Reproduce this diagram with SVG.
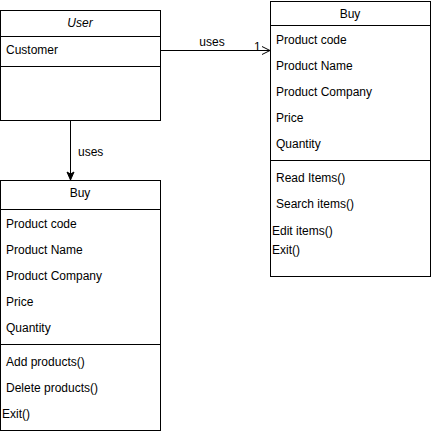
<svg xmlns="http://www.w3.org/2000/svg" width="431" height="431" viewBox="0 0 431 431">
<style>
.box{fill:#fff;stroke:#000;stroke-width:1}
.ln{stroke:#000;stroke-width:1;fill:none}
text{font-family:"Liberation Sans",Arial,sans-serif;font-size:12px;fill:#000}
.c{text-anchor:middle}
</style>
<defs>
<marker id="open" markerWidth="10" markerHeight="10" refX="9" refY="5" orient="auto" markerUnits="userSpaceOnUse">
<path d="M1,1 L9,5 L1,9" fill="none" stroke="#000" stroke-width="1"/>
</marker>
<marker id="block" markerWidth="10" markerHeight="10" refX="9" refY="5" orient="auto" markerUnits="userSpaceOnUse">
<path d="M1,1.5 L9,5 L1,8.5 L3,5 Z" fill="#000" stroke="#000" stroke-width="1"/>
</marker>
</defs>
<g id="connectors">
<line class="ln" x1="160.5" y1="50.5" x2="270" y2="50.5" marker-end="url(#open)"/>
<text x="212" y="46" class="c">uses</text>
<text x="254" y="51">1</text>
<line class="ln" x1="70.5" y1="120.5" x2="70.5" y2="180" marker-end="url(#block)"/>
<text x="78" y="156">uses</text>
</g>
<g id="user">
<rect class="box" x="0.5" y="10.5" width="160" height="110"/>
<line class="ln" x1="0.5" y1="36.5" x2="160.5" y2="36.5"/>
<line class="ln" x1="0.5" y1="66.5" x2="160.5" y2="66.5"/>
<text x="80" y="27" class="c" font-style="italic">User</text>
<text x="6" y="54">Customer</text>
</g>
<g id="buy-right">
<rect class="box" x="270.5" y="1.5" width="160" height="275"/>
<line class="ln" x1="270.5" y1="25.5" x2="430.5" y2="25.5"/>
<line class="ln" x1="270.5" y1="160.5" x2="430.5" y2="160.5"/>
<text x="350" y="18" class="c">Buy</text>
<text x="276" y="44">Product code</text>
<text x="276" y="70">Product Name</text>
<text x="276" y="96">Product Company</text>
<text x="276" y="122">Price</text>
<text x="276" y="148">Quantity</text>
<text x="276" y="182">Read Items()</text>
<text x="276" y="208">Search items()</text>
<text x="272" y="235">Edit items()</text>
<text x="272" y="254">Exit()</text>
</g>
<g id="buy-left">
<rect class="box" x="0.5" y="180.5" width="160" height="250"/>
<line class="ln" x1="0.5" y1="209.5" x2="160.5" y2="209.5"/>
<line class="ln" x1="0.5" y1="344.5" x2="160.5" y2="344.5"/>
<text x="80" y="197" class="c">Buy</text>
<text x="6" y="228">Product code</text>
<text x="6" y="254">Product Name</text>
<text x="6" y="280">Product Company</text>
<text x="6" y="306">Price</text>
<text x="6" y="332">Quantity</text>
<text x="6" y="366">Add products()</text>
<text x="6" y="392">Delete products()</text>
<text x="2" y="418">Exit()</text>
</g>
</svg>
